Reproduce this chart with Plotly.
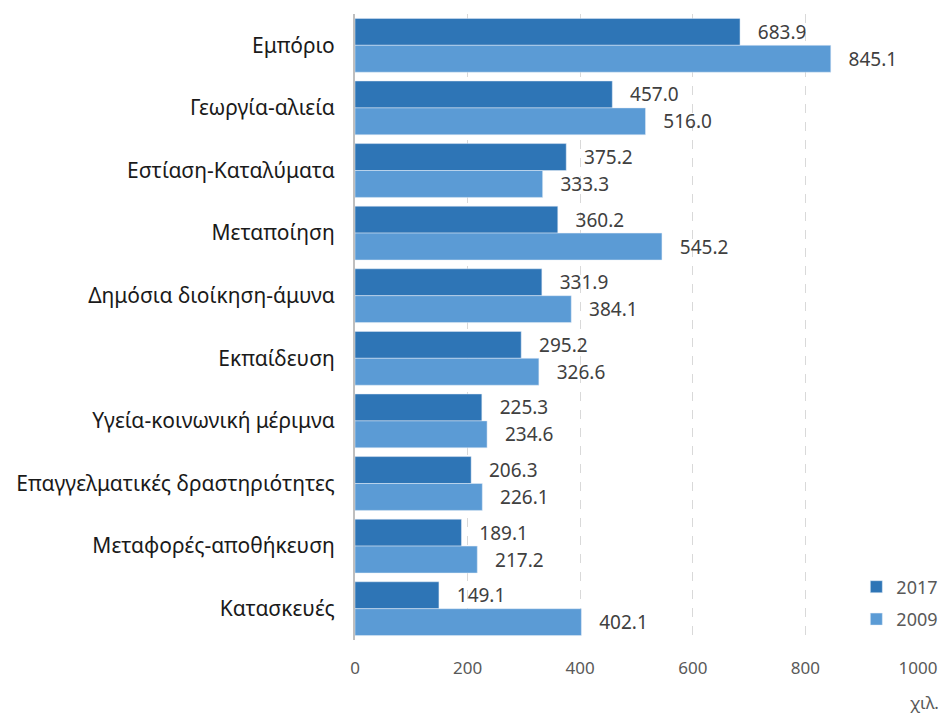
import plotly.graph_objects as go

categories = ["Εμπόριο", "Γεωργία-αλιεία", "Εστίαση-Καταλύματα", "Μεταποίηση",
              "Δημόσια διοίκηση-άμυνα", "Εκπαίδευση", "Υγεία-κοινωνική μέριμνα",
              "Επαγγελματικές δραστηριότητες", "Μεταφορές-αποθήκευση", "Κατασκευές"]
values_2017 = [683.9, 457.0, 375.2, 360.2, 331.9, 295.2, 225.3, 206.3, 189.1, 149.1]
values_2009 = [845.1, 516.0, 333.3, 545.2, 384.1, 326.6, 234.6, 226.1, 217.2, 402.1]
x_ticks = [0, 200, 400, 600, 800, 1000]

FONT = "Noto Sans"
pad = "\u00a0\u00a0\u00a0"

fig = go.Figure()
for name, vals, col in [("2017", values_2017, "#2E75B6"), ("2009", values_2009, "#5B9BD5")]:
    fig.add_trace(go.Bar(
        y=categories, x=vals, name=name, orientation="h",
        legendgroup=name,
        marker=dict(color=col),
        text=[pad + f"{v:.1f}" for v in vals],
        textposition="outside", cliponaxis=False,
        textfont=dict(family=FONT, size=19, color="#404040"),
    ))

fig.update_layout(
    width=938, height=707,
    margin=dict(l=347, r=28, t=6, b=75, autoexpand=False),
    barmode="group", bargap=0.14, bargroupgap=0,
    plot_bgcolor="white", paper_bgcolor="white",
    font=dict(family=FONT),
    showlegend=True,
    legend=dict(x=1.045, y=0.004, xanchor="right", yanchor="bottom",
                font=dict(family=FONT, size=18, color="#595959"),
                bgcolor="rgba(0,0,0,0)", itemwidth=30, tracegroupgap=6),
    xaxis=dict(range=[0, 1000], tickvals=x_ticks, showgrid=True,
               gridcolor="#d9d9d9", griddash="dash", gridwidth=1,
               zeroline=False, showline=False,
               ticks="outside", ticklen=13, tickcolor="rgba(0,0,0,0)",
               tickfont=dict(family=FONT, size=17, color="#595959")),
    yaxis=dict(autorange="reversed", showline=True, linecolor="#bfbfbf", linewidth=2,
               ticks="outside", ticklen=14, tickcolor="rgba(0,0,0,0)",
               tickfont=dict(family=FONT, size=21, color="#1a1a1a")),
    annotations=[dict(text="χιλ.", xref="paper", yref="paper", x=1.04, y=-0.1,
                      xanchor="right", yanchor="middle", showarrow=False,
                      font=dict(family=FONT, size=17, color="#595959"))],
)

fig.write_html("out.html")
